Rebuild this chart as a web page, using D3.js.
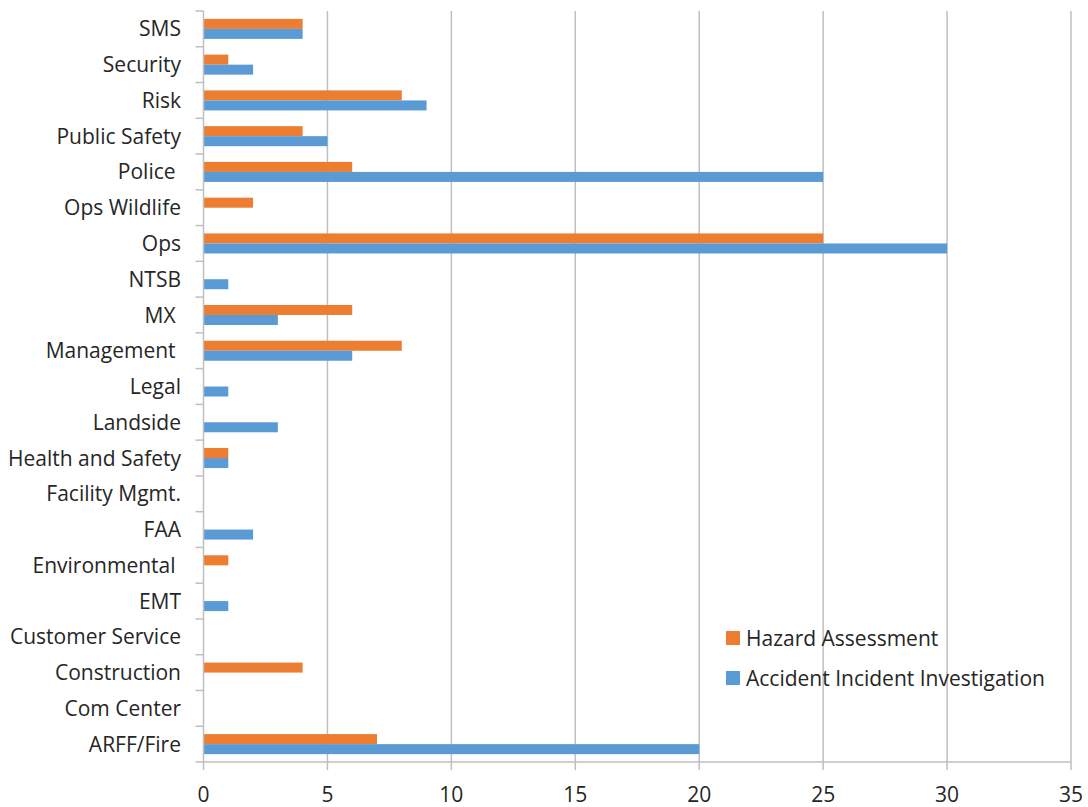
<!DOCTYPE html>
<html>
<head>
<meta charset="utf-8">
<script src="https://cdn.jsdelivr.net/npm/d3@7"></script>
<style>
  html, body { margin: 0; padding: 0; background: #fff; }
  svg text { font-family: "Open Sans", "DejaVu Sans", sans-serif; fill: #262626; white-space: pre; }
</style>
</head>
<body>
<svg id="chart" width="1088" height="807"></svg>
<script>
// Categories listed top to bottom (trailing spaces are part of some labels)
const categories = [
  "SMS", "Security", "Risk", "Public Safety", "Police ", "Ops Wildlife", "Ops",
  "NTSB", "MX ", "Management ", "Legal", "Landside", "Health and Safety",
  "Facility Mgmt.", "FAA", "Environmental ", "EMT", "Customer Service",
  "Construction", "Com Center", "ARFF/Fire"
];
const hazardAssessment = [4, 1, 8, 4, 6, 2, 25, 0, 6, 8, 0, 0, 1, 0, 0, 1, 0, 0, 4, 0, 7];
const accidentInvestigation = [4, 2, 9, 5, 25, 0, 30, 1, 3, 6, 1, 3, 1, 0, 2, 0, 1, 0, 0, 0, 20];
const seriesNames = ["Hazard Assessment", "Accident Incident Investigation"];
const seriesColors = ["#ED7D31", "#5B9BD5"];
const xTicks = [0, 5, 10, 15, 20, 25, 30, 35];

const svg = d3.select("#chart");
const plotLeft = 203.5, plotRight = 1071, plotTop = 11, plotBottom = 762;
const gridColor = "#BFBFBF";
const fontSize = 21;

const x = d3.scaleLinear().domain([0, 35]).range([plotLeft, plotRight]);
const y = d3.scaleBand().domain(categories).range([plotTop, plotBottom])
  .paddingInner(0.44).paddingOuter(0.22);
const ySub = d3.scaleBand().domain([0, 1]).range([0, y.bandwidth()]);

// Vertical gridlines
svg.append("g").selectAll("line")
  .data(xTicks.filter(d => d > 0))
  .join("line")
  .attr("x1", d => x(d)).attr("x2", d => x(d))
  .attr("y1", plotTop).attr("y2", plotBottom)
  .attr("stroke", gridColor).attr("stroke-width", 1.5);

// Bars
const series = [hazardAssessment, accidentInvestigation];
series.forEach((vals, si) => {
  svg.append("g").selectAll("rect")
    .data(categories.map((c, i) => ({ c, v: vals[i] })).filter(d => d.v > 0))
    .join("rect")
    .attr("x", x(0))
    .attr("y", d => y(d.c) + ySub(si))
    .attr("width", d => x(d.v) - x(0))
    .attr("height", ySub.bandwidth())
    .attr("fill", seriesColors[si]);
});

// Category axis: line with ticks at band boundaries
const boundaries = d3.range(categories.length + 1)
  .map(i => plotTop + i * (plotBottom - plotTop) / categories.length);
const yAxisG = svg.append("g");
yAxisG.append("line")
  .attr("x1", plotLeft).attr("x2", plotLeft).attr("y1", plotTop).attr("y2", plotBottom)
  .attr("stroke", gridColor).attr("stroke-width", 1.5);
yAxisG.selectAll("line.tick")
  .data(boundaries)
  .join("line").attr("class", "tick")
  .attr("x1", plotLeft - 8).attr("x2", plotLeft)
  .attr("y1", d => d).attr("y2", d => d)
  .attr("stroke", gridColor).attr("stroke-width", 1.5);
yAxisG.selectAll("text")
  .data(categories)
  .join("text")
  .attr("x", 181)
  .attr("y", d => y(d) + y.bandwidth() / 2)
  .attr("dy", "0.36em")
  .attr("text-anchor", "end")
  .attr("font-size", fontSize)
  .text(d => d);

// Value axis
const xAxisG = svg.append("g");
xAxisG.append("line")
  .attr("x1", plotLeft).attr("x2", plotRight).attr("y1", plotBottom).attr("y2", plotBottom)
  .attr("stroke", gridColor).attr("stroke-width", 1.5);
xAxisG.selectAll("line.tick")
  .data(xTicks)
  .join("line").attr("class", "tick")
  .attr("x1", d => x(d)).attr("x2", d => x(d))
  .attr("y1", plotBottom).attr("y2", plotBottom + 8)
  .attr("stroke", gridColor).attr("stroke-width", 1.5);
xAxisG.selectAll("text")
  .data(xTicks)
  .join("text")
  .attr("x", d => x(d))
  .attr("y", 794)
  .attr("dy", "0.36em")
  .attr("text-anchor", "middle")
  .attr("font-size", fontSize)
  .text(d => d);

// Legend
const legend = svg.append("g");
seriesNames.forEach((name, i) => {
  const ly = 638 + i * 40;
  legend.append("rect")
    .attr("x", 726).attr("y", ly - 7).attr("width", 14).attr("height", 14)
    .attr("fill", seriesColors[i]);
  legend.append("text")
    .attr("x", 746).attr("y", ly).attr("dy", "0.36em")
    .attr("font-size", fontSize)
    .text(name);
});
</script>
</body>
</html>
